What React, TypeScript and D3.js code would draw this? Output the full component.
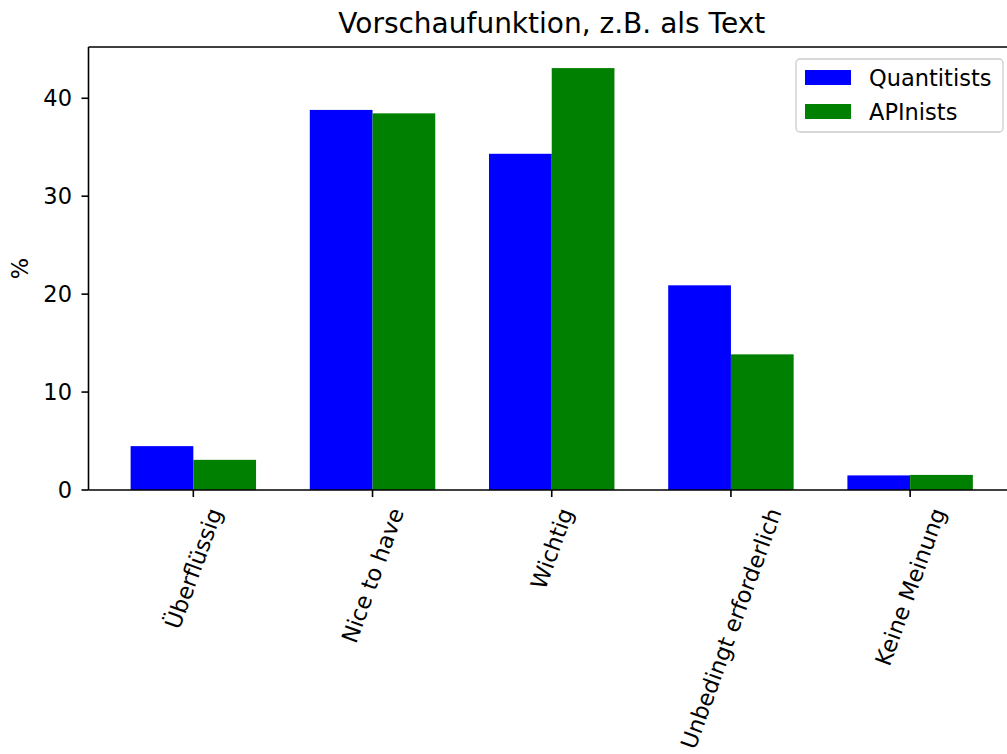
import React, { useEffect, useRef } from 'react';
import * as d3 from 'd3';

const categories = ['Überflüssig', 'Nice to have', 'Wichtig', 'Unbedingt erforderlich', 'Keine Meinung'];
const quantitists = [4.48, 38.81, 34.33, 20.9, 1.49];
const apinists = [3.08, 38.46, 43.08, 13.85, 1.54];
const seriesNames = ['Quantitists', 'APInists'];
const seriesColors = ['#0000ff', '#008000'];
const yTicks = [0, 10, 20, 30, 40];

const W = 1007;
const H = 754;
const FONT = '"DejaVu Sans", Verdana, sans-serif';
const FS = 22.5;

export default function App() {
  const ref = useRef<SVGSVGElement>(null);

  useEffect(() => {
    document.body.style.margin = '0';
    const svg = d3.select(ref.current);
    svg.selectAll('*').remove();

    const left = 88.5, top = 47, bottom = 490;
    const step = 179.2;
    const barW = 0.35;
    const x = d3.scaleLinear().domain([-0.585, 4.585]).range([left, left + 5.17 * step]);
    const yMax = d3.max([...quantitists, ...apinists]) as number * 1.05;
    const y = d3.scaleLinear().domain([0, yMax]).range([bottom, top]);

    svg.append('rect').attr('width', W).attr('height', H).attr('fill', '#fff');

    const series = [quantitists, apinists];
    series.forEach((vals, s) => {
      svg.append('g').selectAll('rect').data(vals).join('rect')
        .attr('x', (d, i) => x(i + (s === 0 ? -barW : 0)))
        .attr('width', x(barW) - x(0))
        .attr('y', d => y(d))
        .attr('height', d => y(0) - y(d))
        .attr('fill', seriesColors[s]);
    });

    // spines
    const axisColor = '#000';
    svg.append('line').attr('x1', left).attr('x2', left).attr('y1', top).attr('y2', bottom)
      .attr('stroke', axisColor).attr('stroke-width', 1.6);
    svg.append('line').attr('x1', left).attr('x2', W + 20).attr('y1', bottom).attr('y2', bottom)
      .attr('stroke', axisColor).attr('stroke-width', 1.6);
    svg.append('line').attr('x1', left).attr('x2', W + 20).attr('y1', top).attr('y2', top)
      .attr('stroke', axisColor).attr('stroke-width', 1.6);

    // y ticks
    const yt = svg.append('g');
    yTicks.forEach(t => {
      yt.append('line').attr('x1', left - 7).attr('x2', left).attr('y1', y(t)).attr('y2', y(t))
        .attr('stroke', axisColor).attr('stroke-width', 1.6);
      yt.append('text').attr('x', left - 16.5).attr('y', y(t)).attr('dy', '0.36em')
        .attr('text-anchor', 'end').attr('font-family', FONT).attr('font-size', FS)
        .text(String(t));
    });

    // x ticks + rotated labels
    const angle = 70 * Math.PI / 180;
    const labelTop = bottom + 14.5;
    categories.forEach((c, i) => {
      svg.append('line').attr('x1', x(i)).attr('x2', x(i)).attr('y1', bottom).attr('y2', bottom + 7)
        .attr('stroke', axisColor).attr('stroke-width', 1.6);
      const t = svg.append('text')
        .attr('text-anchor', 'middle').attr('font-family', FONT).attr('font-size', FS)
        .text(c);
      const w = (t.node() as SVGTextElement).getComputedTextLength();
      const h = FS * 1.16;
      const bh = w * Math.sin(angle) + h * Math.cos(angle);
      const cx = x(i), cy = labelTop + bh / 2;
      t.attr('x', 0).attr('y', 0).attr('dy', '0.36em')
        .attr('transform', `translate(${cx},${cy}) rotate(-70)`);
    });

    // y label
    svg.append('text').attr('transform', `translate(28,${(top + bottom) / 2}) rotate(-90)`)
      .attr('text-anchor', 'middle').attr('font-family', FONT).attr('font-size', FS)
      .text('%');

    // title
    svg.append('text').attr('x', (x.range()[0] + x.range()[1]) / 2).attr('y', 33)
      .attr('text-anchor', 'middle').attr('font-family', FONT).attr('font-size', 28)
      .text('Vorschaufunktion, z.B. als Text');

    // legend
    const lg = svg.append('g');
    lg.append('rect').attr('x', 796).attr('y', 59).attr('width', 207).attr('height', 73)
      .attr('rx', 4).attr('fill', '#fff').attr('fill-opacity', 0.8)
      .attr('stroke', '#cccccc').attr('stroke-width', 1.3);
    seriesNames.forEach((n, i) => {
      const cy = 77.5 + i * 34;
      lg.append('rect').attr('x', 805).attr('y', cy - 7.5).attr('width', 46).attr('height', 15)
        .attr('fill', seriesColors[i]);
      lg.append('text').attr('x', 869).attr('y', cy).attr('dy', '0.36em')
        .attr('font-family', FONT).attr('font-size', FS).text(n);
    });
  }, []);

  return <svg ref={ref} width={W} height={H} style={{ display: 'block' }} />;
}
